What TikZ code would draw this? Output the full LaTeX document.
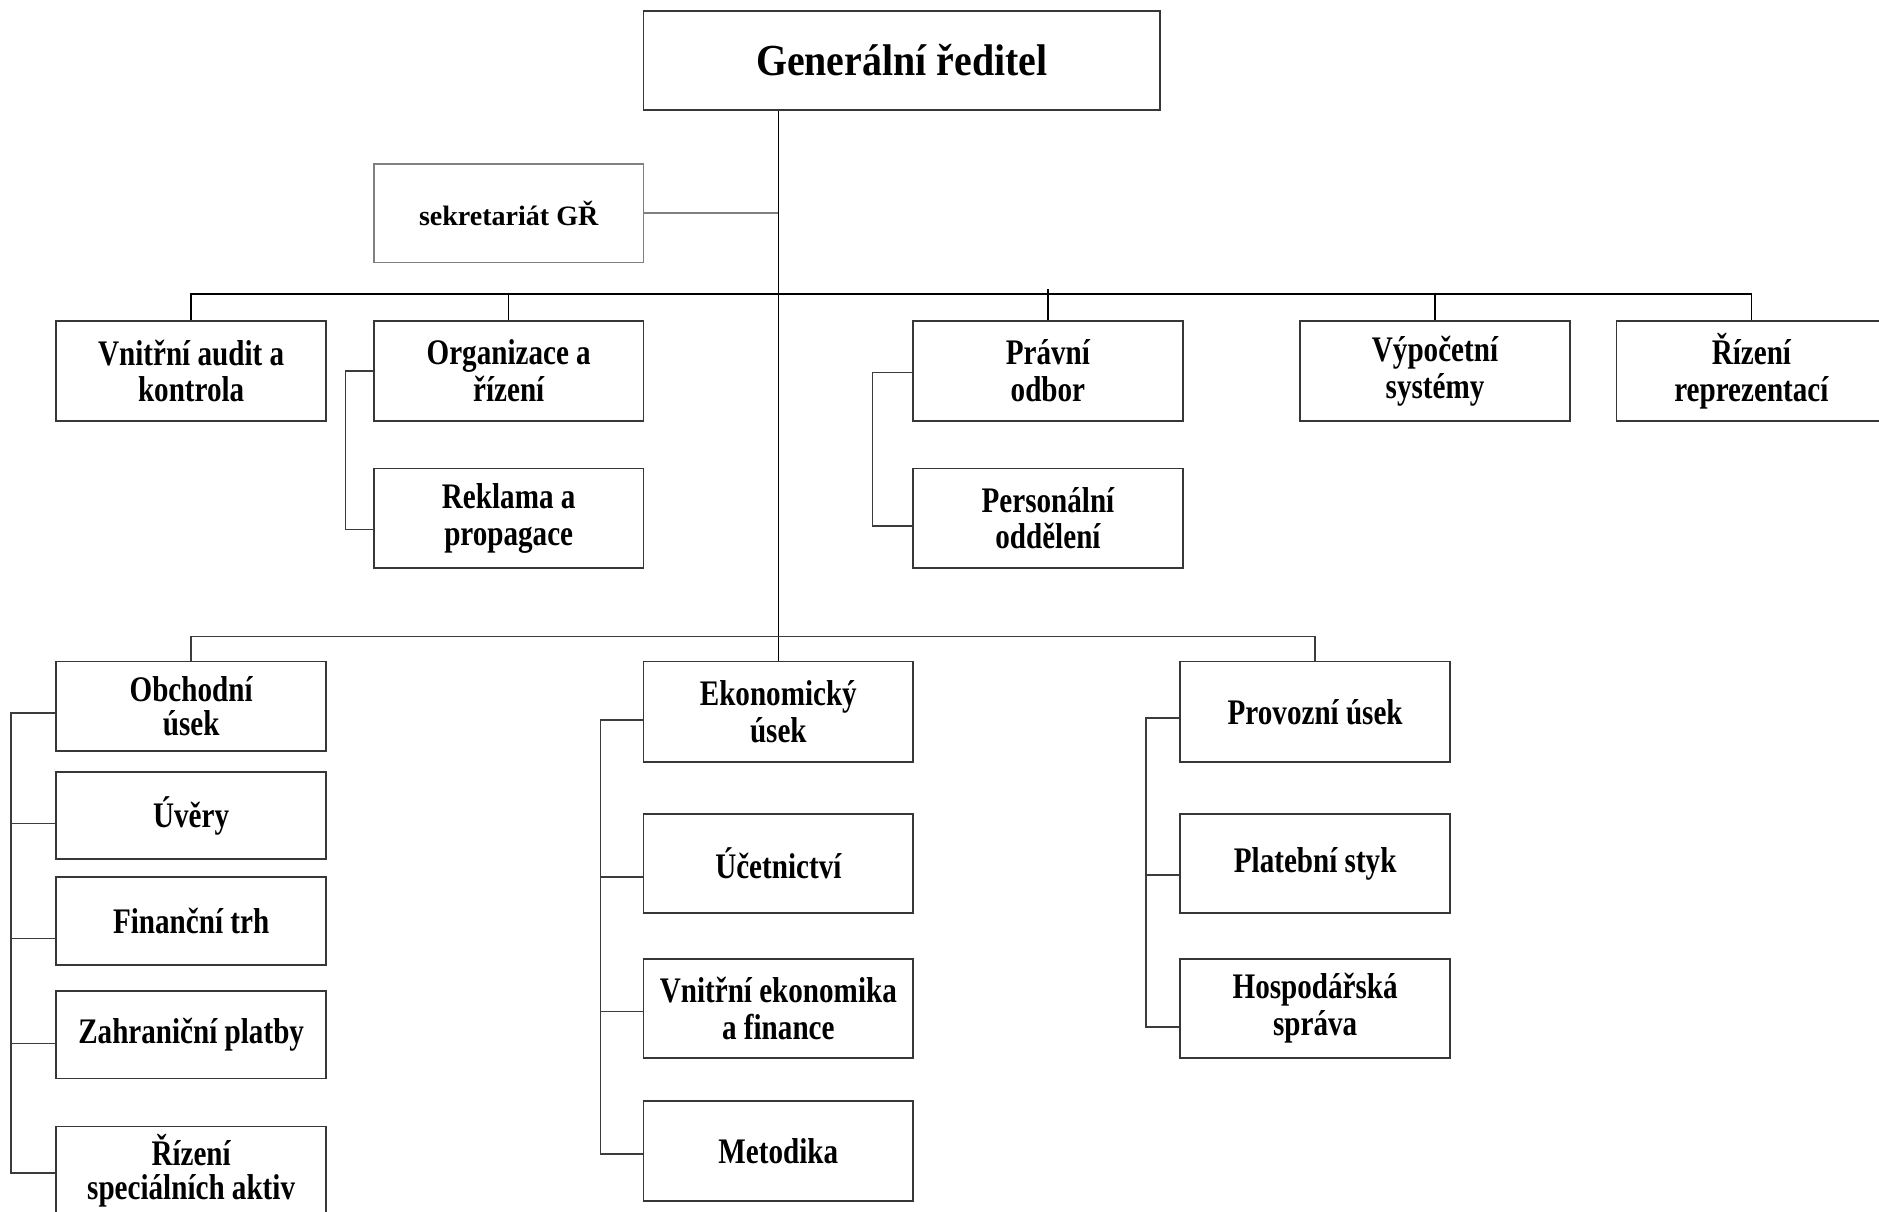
\documentclass[tikz,border=0pt]{standalone}
\usepackage{fontspec}
\setmainfont{Liberation Serif}
\newfontfamily\nfont{Liberation Serif}[FakeStretch=0.81]
\newfontfamily\gfont{Liberation Serif}[FakeStretch=0.9]
\usetikzlibrary{calc}
\definecolor{bord}{RGB}{55,55,55}
\definecolor{conn}{RGB}{60,60,60}
\definecolor{lightconn}{RGB}{128,128,128}
\begin{document}
\begin{tikzpicture}[x=0.5pt,y=-0.5pt,
  box/.style={draw=bord,line width=0.75pt,fill=white,inner sep=0pt,
    minimum width=112.5pt,minimum height=41.5pt,align=center,
    font=\nfont\bfseries\fontsize{15}{15.3}\selectfont},
  tight/.style={font=\nfont\bfseries\fontsize{15}{14}\selectfont},
  link/.style={draw=conn,line width=0.6pt},
  mainlink/.style={draw=black,line width=0.55pt},
  greylink/.style={draw=lightconn,line width=0.8pt}]
\useasboundingbox (0,0) rectangle (1568,1011);
\clip (0,0) rectangle (1568,1011);
\fill[white] (0,0) rectangle (1568,1011);

% top
\node[box,minimum width=215.5pt,font=\gfont\bfseries\fontsize{18.5}{20}\selectfont] (gr) at (752.5,50.5) {Generální ředitel};
\node[box,draw=lightconn,minimum height=41pt,font=\bfseries\fontsize{11.7}{13}\selectfont] (sek) at (424.5,178) {sekretariát GŘ};

% second row
\node[box] (va) at (159.5,309.5) {Vnitřní audit a\\kontrola};
\node[box] (org) at (424.5,309.5) {Organizace a\\řízení};
\node[box] (prav) at (874.5,309.5) {Právní\\odbor};
\node[box] (vyp) at (1197.5,309.5) {Výpočetní\\systémy};
\node[box] (riz) at (1461.5,309.5) {Řízení\\reprezentací};
\node[box] (rek) at (424.5,432.5) {Reklama a\\propagace};
\node[box] (pers) at (874.5,432.5) {Personální\\oddělení};

% bottom left
\node[box,tight,minimum height=37.5pt] (obch) at (159.5,589.5) {Obchodní\\úsek};
\node[box,minimum height=36.5pt] (uv) at (159.5,680.5) {Úvěry};
\node[box,minimum height=36.5pt] (fin) at (159.5,768.5) {Finanční trh};
\node[box,minimum height=36.5pt] (zahr) at (159.5,863.5) {Zahraniční platby};
\node[box,tight,minimum height=37pt] (rsa) at (159.5,977) {Řízení\\speciálních aktiv};

% bottom middle
\node[box,minimum height=42pt] (eko) at (649.5,594) {Ekonomický\\úsek};
\node[box] (uc) at (649.5,720.5) {Účetnictví};
\node[box] (vef) at (649.5,841.5) {Vnitřní ekonomika\\a finance};
\node[box] (met) at (649.5,960.5) {Metodika};

% bottom right
\node[box,minimum height=42pt] (prov) at (1097.5,594) {Provozní úsek};
\node[box] (plat) at (1097.5,720.5) {Platební styk};
\node[box] (hosp) at (1097.5,841.5) {Hospodářská\\správa};

% trunk and bars
\draw[mainlink] (gr.south -| eko.north) -- (eko.north);
\draw[greylink] (sek.east) -- (sek.east -| eko.north);
\draw[mainlink] (va.north) -- ++(0,-22) -| (riz.north);
\draw[mainlink] (org.north) -- ++(0,-22);
\draw[mainlink] (prav.north) -- ++(0,-26);
\draw[mainlink] (vyp.north) -- ++(0,-22);
\draw[link] (obch.north) -- ++(0,-20) -| (prov.north);

% brackets
\draw[link] (org.west) -- ++(-23,0) |- ($(rek.west)+(0,9.5)$);
\draw[link] ($(prav.west)+(0,1.5)$) -- ++(-33,0) |- ($(pers.west)+(0,6.5)$);

\draw[link] ($(obch.west)+(0,5.5)$) -- ++(-37,0) |- ($(rsa.west)+(0,2)$);
\draw[link] ($(uv.west)+(0,6.5)$) -- ++(-37,0);
\draw[link] ($(fin.west)+(0,14.5)$) -- ++(-37,0);
\draw[link] ($(zahr.west)+(0,7.5)$) -- ++(-37,0);

\draw[link] ($(eko.west)+(0,7)$) -- ++(-35,0) |- ($(met.west)+(0,2.5)$);
\draw[link] ($(uc.west)+(0,11.5)$) -- ++(-35,0);
\draw[link] ($(vef.west)+(0,2.5)$) -- ++(-35,0);

\draw[link] ($(prov.west)+(0,5)$) -- ++(-28,0) |- ($(hosp.west)+(0,15.5)$);
\draw[link] ($(plat.west)+(0,9.5)$) -- ++(-28,0);
\end{tikzpicture}
\end{document}
